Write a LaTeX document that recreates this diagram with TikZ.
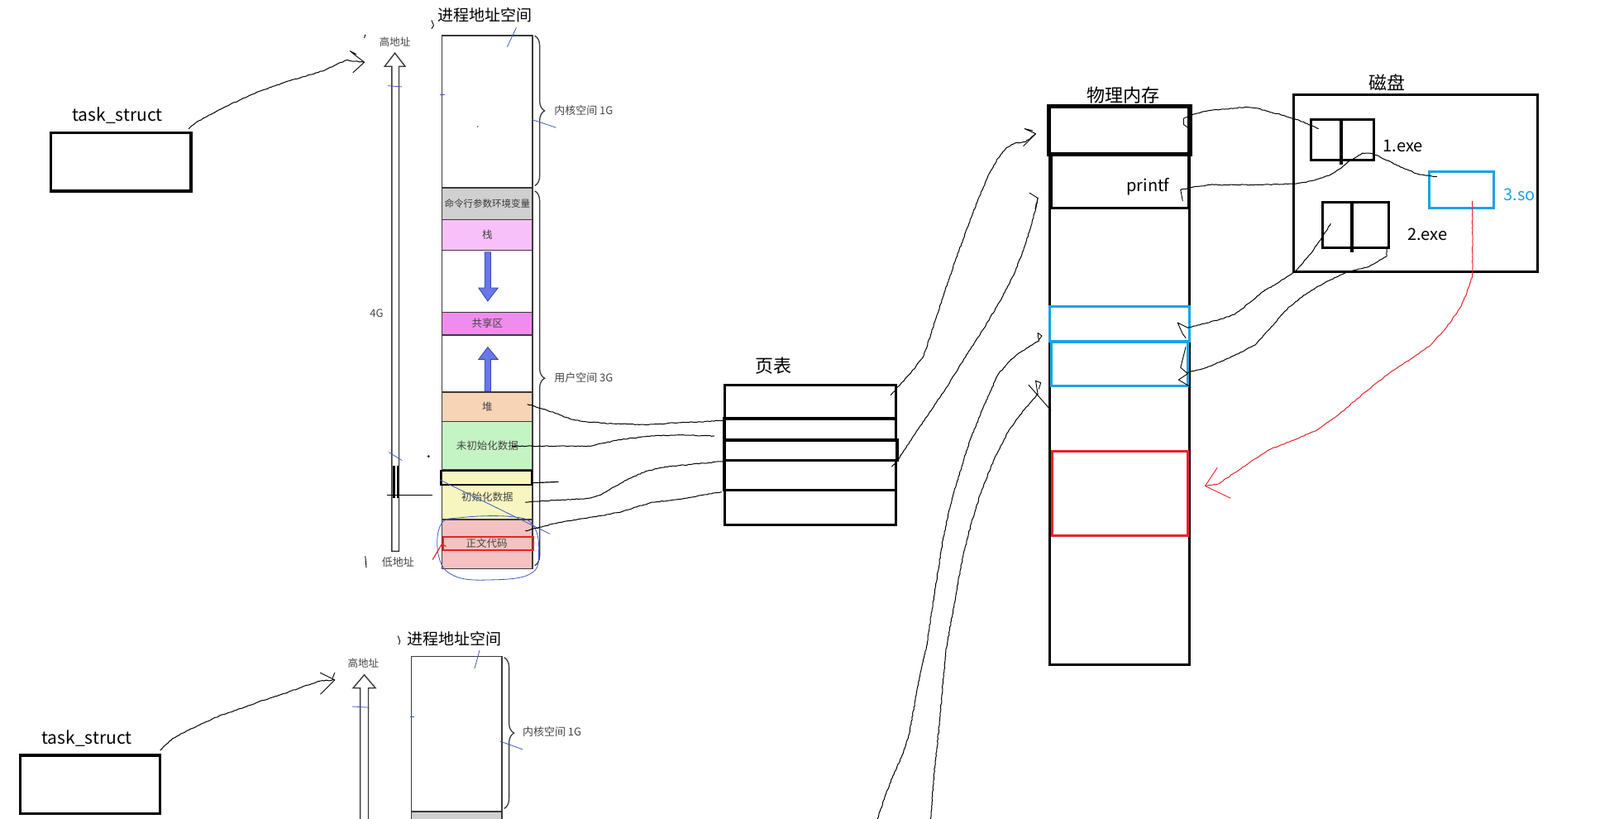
\documentclass[tikz,border=0pt]{standalone}
\usepackage{fontspec}
\setmainfont{Noto Sans CJK SC}
\usetikzlibrary{fit,decorations.pathreplacing,decorations.pathmorphing,arrows.meta}
\definecolor{cmdgray}{HTML}{D0D0D0}
\definecolor{stackpink}{HTML}{F8C0F8}
\definecolor{sharemag}{HTML}{F08CEE}
\definecolor{heappeach}{HTML}{F8D4B6}
\definecolor{bssgreen}{HTML}{C4F4C4}
\definecolor{datayel}{HTML}{F8F6C0}
\definecolor{textpink}{HTML}{F4C2C2}
\definecolor{rowline}{HTML}{3A3A3A}
\definecolor{labgray}{HTML}{454545}
\definecolor{arrblue}{HTML}{6A78E6}
\definecolor{arrblueD}{HTML}{3444B0}
\definecolor{skyblue}{HTML}{1AA3E8}
\definecolor{redline}{HTML}{E8222A}
\definecolor{penblue}{HTML}{3C5CC0}
\begin{document}
\begin{tikzpicture}[x=1.234pt,y=-1.234pt,
 box/.style={draw=black,line width=3.5pt,inner sep=0pt,outer sep=0pt},
 row/.style={draw=rowline,line width=1.6pt,inner sep=0pt,outer sep=0pt},
 lab/.style={inner sep=0pt,font=\fontsize{21}{25}\selectfont},
 ttl/.style={inner sep=0pt,font=\fontsize{22}{26}\selectfont},
 smalllab/.style={inner sep=0pt,text=labgray,font=\fontsize{12.5}{14}\selectfont},
 sidelab/.style={inner sep=0pt,text=labgray,font=\fontsize{13}{15}\selectfont,anchor=west},
 hand/.style={line width=1pt,line join=round,line cap=round,decorate,decoration={random steps,segment length=2.5pt,amplitude=0.5pt}},
 barb/.style={line width=0.9pt,line cap=round,line join=round},
 brc/.style={draw=rowline,line width=1.3pt,decorate,decoration={brace,amplitude=12pt}},
 hollow/.style={draw=rowline,line width=1.4pt,fill=white},
 fatarr/.style={draw=arrblueD,line width=0.8pt,fill=arrblue},
 pen/.style={draw=penblue,line width=0.8pt},
]
\useasboundingbox (0,0) rectangle (1568,802);
\fill[white] (0,0) rectangle (1568,802);
\begin{scope}
\clip (0,0) rectangle (1568,802);

% ===== top task_struct =====
\node[box,fit={(50,130)(187,187)}] (ts1) {};
\node[lab] (ts1t) at (115,113) {task\_struct};

% ===== top address space column =====
\node[ttl,font=\fontsize{19}{23}\selectfont] (as1t) at (475,15) {进程地址空间};
\node[smalllab] (hi1) at (387,41) {高地址};
\draw[hollow] (384,540) -- (384,65) -- (377,65) -- (387,52) -- (397,65) -- (391,65) -- (391,540) -- cycle;
\node[smalllab,font=\fontsize{13}{15}\selectfont] (g4) at (369,307) {4G};
\node[smalllab,font=\fontsize{13}{15}\selectfont] (lo1) at (390,551) {低地址};

\node[row,fill=white,fit={(433,35)(522,184)}] (kern1) {};
\node[row,fill=cmdgray,fit={(433,184)(522,215)}] (cmd) {};
\node[row,fill=stackpink,fit={(433,215)(522,245)}] (stack) {};
\node[row,fill=white,fit={(433,245)(522,306)}] (gapa) {};
\node[row,fill=sharemag,fit={(433,306)(522,328)}] (share) {};
\node[row,fill=white,fit={(433,328)(522,384)}] (gapb) {};
\node[row,fill=heappeach,fit={(433,384)(522,413)}] (heap) {};
\node[row,fill=bssgreen,fit={(433,413)(522,460)}] (bss) {};
\node[row,fill=datayel,fit={(433,460)(522,509)}] (data) {};
\node[row,fill=textpink,fit={(433,509)(522,557)}] (code) {};

\node[smalllab,text=rowline,font=\fontsize{11.5}{13}\selectfont] (cmdt) at (cmd.center) {命令行参数环境变量};
\node[smalllab] (stackt) at (stack.center) {栈};
\node[smalllab] (sharet) at (share.center) {共享区};
\node[smalllab] (heapt) at (heap.center) {堆};
\node[smalllab] (bsst) at (bss.center) {未初始化数据};
\node[smalllab] (datat) at ([yshift=-2.5pt]data.center) {初始化数据};
\node[smalllab] (codet) at (477,532) {正文代码};

% growth arrows
\draw[fatarr] (475,247) -- (481,247) -- (481,282) -- (488,282) -- (478,295) -- (469,282) -- (475,282) -- cycle;
\draw[fatarr] (475,383) -- (481,383) -- (481,352) -- (488,352) -- (478,340) -- (469,352) -- (475,352) -- cycle;

% braces
\draw[brc] (524,35) -- (524,182);
\draw[brc] (524,187) -- (524,554);
\node[sidelab] (kern1t) at (543,108) {内核空间 1G};
\node[sidelab] (user1t) at (543,370) {用户空间 3G};

% hand marks on the column
\node[draw=black,line width=2.2pt,inner sep=0pt,fit={(432,461)(521,475)}] (datab) {};
\node[draw=redline,line width=2pt,inner sep=0pt,fit={(434,526)(523,539)}] (coder) {};
\draw[pen] plot[smooth cycle,tension=0.7] coordinates {(432,514) (452,507) (500,506) (522,514) (528,540) (520,562) (480,568) (445,564) (430,545)};
\draw[pen] (431,470) -- (539,523);
\draw[pen] (506,27) -- (497,46);
\draw[pen] (380,84) -- (394,85);
\draw[pen] (431,93) -- (436,93);
\draw[pen] (521,117) -- (545,125);
\draw[pen] (381,443) -- (394,451);
\fill[penblue] (468,124) circle (0.8);
\draw[barb,redline,line width=1.2pt] (424,548) -- (433,533) -- (437,535);
\draw[line width=2.4pt] (386,456) -- (386,488);
\draw[line width=2.4pt] (390,456) -- (390,488);
\draw[line width=0.8pt] (379,485) -- (424,485);
\fill (420,447) circle (1.2);
\draw[barb] (423,20) -- (425,25) -- (423,28);
\draw[barb] (358,34) -- (357,37);
\draw[barb] (358,545) -- (359,556);

% ===== page table =====
\node[ttl] (ptt) at (758,358) {页表};
\node[box,line width=3pt,fit={(710,377)(878,410)}] (pt1) {};
\node[box,line width=3.6pt,fit={(710,410)(878,431)}] (pt2) {};
\node[box,line width=3.6pt,fit={(710,431)(879,451)}] (pt3) {};
\node[box,line width=3.6pt,fit={(710,451)(878,480)}] (pt4) {};
\node[box,line width=3pt,fit={(710,480)(878,514)}] (pt5) {};

% ===== physical memory =====
\node[ttl] (pmt) at (1101,93) {物理内存};
\node[box,line width=3pt,fit={(1029,103)(1166,651)}] (pm) {};
\node[box,line width=5.5pt,fit={(1028,104)(1166,151)}] (pmtop) {};
\node[box,line width=3pt,fit={(1030,152)(1165,204)}] (pmprintf) {};
\node[lab,font=\fontsize{20}{24}\selectfont] (printft) at (1125,183) {printf};
\node[draw=skyblue,line width=3pt,inner sep=0pt,fit={(1029,300)(1166,334)}] (pmblue1) {};
\node[draw=skyblue,line width=3pt,inner sep=0pt,fit={(1030,335)(1164,378)}] (pmblue2) {};
\node[draw=redline,line width=3pt,inner sep=0pt,fit={(1031,442)(1164,525)}] (pmred) {};

% ===== disk =====
\node[ttl] (diskt) at (1359,81) {磁盘};
\node[box,line width=3pt,fit={(1268,93)(1507,266)}] (disk) {};
\node[box,line width=3pt,fit={(1285,117)(1346,157)}] (exe1) {};
\draw[line width=4pt] (1314,117) coordinate (e1d) -- (1314,161);
\node[lab,font=\fontsize{20}{24}\selectfont] (exe1t) at (1375,143) {1.exe};
\node[box,line width=3pt,fit={(1296,198)(1361,243)}] (exe2) {};
\draw[line width=4pt] (1325,198) coordinate (e2d) -- (1325,247);
\node[lab,font=\fontsize{20}{24}\selectfont] (exe2t) at (1399,230) {2.exe};
\node[draw=skyblue,line width=3pt,inner sep=0pt,fit={(1401,168)(1464,204)}] (so3) {};
\node[lab,text=skyblue,font=\fontsize{20}{24}\selectfont] (so3t) at (1489,191) {3.so};

% ===== bottom task_struct and address space =====
\node[box,fit={(20,740)(157,797)}] (ts2) {};
\node[lab] (ts2t) at (85,723) {task\_struct};
\node[ttl,font=\fontsize{19}{23}\selectfont] (as2t) at (445,626) {进程地址空间};
\node[smalllab] (hi2) at (356,650) {高地址};
\draw[hollow] (353,812) -- (353,674) -- (346,674) -- (357,661) -- (368,674) -- (361,674) -- (361,812) -- cycle;
\node[row,fill=white,fit={(403,643)(492,795)}] (kern2) {};
\node[row,fill=cmdgray,fit={(403,795)(492,830)}] (cmd2) {};
\draw[brc] (494,644) -- (494,792);
\node[sidelab] (kern2t) at (512,717) {内核空间 1G};
\draw[pen] (470,637) -- (465,655);
\draw[pen] (345,692) -- (362,693);
\draw[pen] (402,702) -- (406,702);
\draw[pen] (490,726) -- (512,734);
\draw[barb] (328,659) -- (326,664);
\draw[barb] (390,623) -- (392,628) -- (391,631);

% ===== coordinates for connector ends =====
\coordinate (c1s) at (517,396); \coordinate (c1e) at (709,412);
\coordinate (c2s) at (502,437); \coordinate (c2e) at (700,427);
\coordinate (c3s) at (521,473); \coordinate (c3e) at (547,472);
\coordinate (c4s) at (515,492); \coordinate (c4e) at (708,452);
\coordinate (c5s) at (515,520); \coordinate (c5e) at (707,482);
\coordinate (pas) at (873,387); \coordinate (pbs) at (874,457);
\coordinate (pa) at (1015,131); \coordinate (pb) at (1017,194);
\coordinate (pc) at (1018,334); \coordinate (pd) at (1017,386);
\coordinate (lowc) at (860,802); \coordinate (lowd) at (912,802);
\coordinate (ts1s) at (185,126); \coordinate (ts2s) at (157,735);
\coordinate (ts1a) at (357,61); \coordinate (ts2a) at (328,666);
\coordinate (e1a) at (1292,126); \coordinate (e1b) at (1335,150);
\coordinate (ma) at (1167,113); \coordinate (mb) at (1157,186);
\coordinate (soa) at (1408,173);
\coordinate (e2a) at (1304,219); \coordinate (e2b) at (1359,244);
\coordinate (mc) at (1164,321); \coordinate (md) at (1164,365);
\coordinate (sob) at (1443,197); \coordinate (mr) at (1181,476);

% ===== connectors (hand drawn, jittered polylines) =====
\draw[hand] plot coordinates {(ts1s) (192,120) (203,114) (220,105) (237,97) (258,88) (278,81) (298,75) (318,69) (330,63) (339,59) (348,60) (ts1a)};
\draw[barb] (ts1a) -- (343,50) (ts1a) -- (346,71) (343,50) -- (349,53);
\draw[hand] plot coordinates {(ts2s) (163,729) (170,723) (185,715) (200,708) (218,700) (236,694) (258,686) (280,679) (298,672) (314,667) (ts2a)};
\draw[barb] (ts2a) -- (314,659) (ts2a) -- (314,680) (314,659) -- (320,662);

\draw[hand] plot coordinates {(c1s) (530,400) (545,405) (558,410) (572,413) (600,415) (632,416) (665,414) (c1e)};
\draw[hand] plot coordinates {(c2s) (540,437) (578,437) (592,434) (605,431) (620,429) (640,427) (665,426) (c2e)};
\draw[barb,line width=1.2pt] (c3s) -- (c3e);
\draw[hand] plot coordinates {(c4s) (545,490) (578,488) (590,484) (602,477) (616,469) (632,462) (648,458) (665,456) (c4e)};
\draw[hand] plot coordinates {(c5s) (535,515) (552,511) (570,508) (590,505) (610,501) (625,496) (640,492) (665,489) (c5e)};

\draw[hand] plot coordinates {(pas) (878,381) (892,366) (905,349) (913,325) (924,291) (936,256) (948,223) (959,194) (970,169) (978,155) (986,145) (995,140) (1005,139) (pa)};
\draw[barb] (pa) -- (1004,126) (pa) -- (1003,143) (1004,126) -- (1012,128);
\draw[hand] plot coordinates {(pbs) (878,453) (900,420) (924,385) (944,353) (964,322) (980,295) (994,268) (1003,245) (1010,223) (1014,208) (pb)};
\draw[barb] (pb) -- (1009,189) (pb) -- (1015,205);
\draw[hand] plot coordinates {(lowc) (867,781) (875,760) (884,740) (891,719) (898,680) (904,650) (908,633) (916,580) (924,529) (930,500) (937,475) (944,452) (951,430) (964,398) (978,367) (988,355) (997,347) (1008,340) (pc)};
\draw[barb] (pc) -- (1017,326) -- (1021,329) -- (1018,333);
\draw[hand] plot coordinates {(lowd) (916,752) (921,705) (924,670) (927,638) (935,592) (943,548) (952,512) (962,480) (975,448) (989,421) (1003,402) (pd)};
\draw[barb] (1008,377) -- (1030,402) (pd) -- (1015,373) -- (1020,375) -- (1018,381);

\draw[hand] plot coordinates {(e1a) (1281,121) (1270,117) (1258,113) (1245,110) (1232,106) (1220,105) (1210,106) (1200,107) (1187,108) (1177,110) (ma)};
\draw[barb] (ma) -- (1160,116) -- (1160,122) -- (1167,127);
\draw[hand] plot coordinates {(e1b) (1329,154) (1322,158) (1312,166) (1302,172) (1286,177) (1270,180) (1237,181) (1210,181) (1186,181) (1170,183) (mb)};
\draw[barb] (mb) -- (1159,197);
\draw[hand] plot coordinates {(e1b) (1342,150) (1349,152) (1359,157) (1369,162) (1379,166) (1388,170) (1398,172) (soa)};
\draw[hand] plot coordinates {(e2a) (1300,226) (1296,232) (1284,249) (1270,265) (1254,276) (1237,286) (1224,297) (1210,308) (1195,313) (1180,317) (mc)};
\draw[barb] (mc) -- (1154,316) -- (1159,327) -- (1162,331);
\draw[hand] plot coordinates {(e2b) (1359,251) (1349,257) (1339,262) (1319,267) (1302,275) (1286,284) (1274,292) (1262,302) (1246,320) (1230,338) (1210,348) (1190,357) (1176,362) (md)};
\draw[barb] (1162,340) -- (1157,360) -- (1164,366) -- (1155,372) -- (1165,378);

\draw[hand,redline] plot coordinates {(sob) (1443,215) (1443,230) (1443,250) (1443,270) (1438,285) (1432,300) (1418,320) (1402,338) (1382,352) (1362,365) (1338,384) (1313,405) (1291,421) (1268,431) (1245,440) (1226,452) (1210,463) (1194,474) (mr)};
\draw[barb,redline] (mr) -- (1193,458) (mr) -- (1206,488);
\end{scope}
\end{tikzpicture}
\end{document}
